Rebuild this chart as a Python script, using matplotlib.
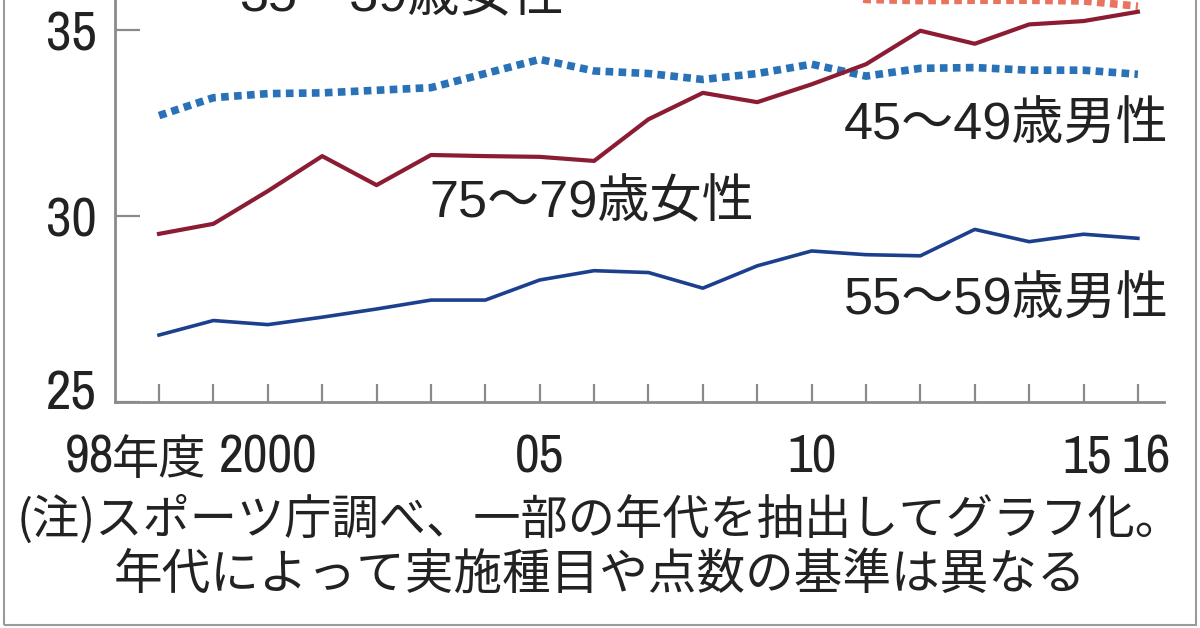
import matplotlib
matplotlib.use('Agg')
import matplotlib.pyplot as plt
from matplotlib import font_manager
from matplotlib.transforms import ScaledTranslation
from matplotlib.patches import Rectangle

# data (new physical fitness test total score)
years = [1998, 1999, 2000, 2001, 2002, 2003, 2004, 2005, 2006, 2007,
         2008, 2009, 2010, 2011, 2012, 2013, 2014, 2015, 2016]
tick_labels = ['98', '', '2000', '', '', '', '', '05', '', '', '',
               '', '10', '', '', '', '', '15', '16']
first_suffix = '年度'
yticks = [25, 30, 35]

male_45_49 = [32.70, 33.18, 33.29, 33.31, 33.38, 33.45, 33.83, 34.21, 33.90, 33.83,
              33.67, 33.83, 34.08, 33.76, 33.97, 33.99, 33.92, 33.92, 33.81]
female_75_79 = [29.52, 29.79, 30.67, 31.61, 30.83, 31.64, 31.61, 31.59, 31.48, 32.60,
                33.31, 33.06, 33.54, 34.08, 34.98, 34.63, 35.15, 35.24, 35.49]
male_55_59 = [26.80, 27.19, 27.08, 27.28, 27.50, 27.74, 27.74, 28.28, 28.53, 28.48,
              28.06, 28.66, 29.06, 28.96, 28.93, 29.64, 29.31, 29.51, 29.40]
# mostly above the cropped top edge; only 2011-16 is visible
female_35_39 = [36.30, 36.40, 36.40, 36.50, 36.40, 36.50, 36.50, 36.60, 36.50, 36.50,
                36.40, 36.30, 36.10, 35.82, 35.79, 35.80, 35.80, 35.78, 35.64]

note = ['(注)スポーツ庁調べ、一部の年代を抽出してグラフ化。',
        '年代によって実施種目や点数の基準は異なる']

jp = 'Noto Sans CJK JP'
plt.rcParams['font.family'] = [jp, 'DejaVu Sans']

# the tick numbers in the original are a condensed face - look for one
cond_name, cond_stretch = None, 'normal'
flist = font_manager.fontManager.ttflist
for test in (lambda f: 'Narrow' in f.name,
             lambda f: 'Condensed' in f.name,
             lambda f: str(f.stretch) in ('condensed', 'semi-condensed', 'extra-condensed')):
    hits = [f for f in flist if test(f) and f.style == 'normal'
            and f.weight in (400, 'normal', 'regular', 'book')]
    if hits:
        cond_name, cond_stretch = hits[0].name, hits[0].stretch
        break
have_cond = cond_name is not None
if not have_cond:
    cond_name = 'Liberation Sans'

txt_col = '#222222'
axis_col = '#8a8a8a'

fig = plt.figure(figsize=(12, 6.28), dpi=100)
# axes runs off the top of the picture (the reference is a crop)
ax = fig.add_axes([115 / 1200, 226 / 628, 1049 / 1200, 402 / 628])

ax.plot(years, male_45_49, color='#2a72b8', lw=5.5, dashes=(1.0, 0.7),
        dash_capstyle='butt')
ax.plot(years, female_35_39, color='#e8735f', lw=5.5, dashes=(1.0, 0.7),
        dash_capstyle='butt')
ax.plot(years, female_75_79, color='#8b1c34', lw=3.0)
ax.plot(years, male_55_59, color='#1c3f8e', lw=2.6)

ax.set_xlim(1998 - 0.81, 2016 + 0.48)
ax.set_ylim(25, 25 + 402 / 37.2)

for s in ['top', 'right']:
    ax.spines[s].set_visible(False)
for s in ['left', 'bottom']:
    ax.spines[s].set_color(axis_col)
    ax.spines[s].set_linewidth(2.0)

xsize, ysize = (39, 40) if have_cond else (31, 33)
xpad = 23 if have_cond else 28
ax.set_xticks(years)
ax.set_xticklabels(tick_labels)
ax.set_yticks(yticks)
ax.set_yticklabels([str(v) for v in yticks])
ax.tick_params(axis='x', direction='in', length=13, width=1.6, color=axis_col,
               pad=xpad, labelsize=xsize, labelcolor=txt_col)
ax.tick_params(axis='y', direction='in', length=18, width=1.6, color=axis_col,
               pad=13, labelsize=ysize, labelcolor=txt_col)
for lab in ax.get_xticklabels() + ax.get_yticklabels():
    lab.set_family([cond_name, jp])
    lab.set_stretch(cond_stretch)
    lab.set_weight('light')


def nudge(lab, dx, dy):
    lab.set_transform(lab.get_transform() + ScaledTranslation(dx / 100, dy / 100, fig.dpi_scale_trans))


xl = ax.get_xticklabels()
nudge(xl[0], -69, 0)
nudge(xl[17], 4, 0)
nudge(xl[18], 8, 0)
yl = ax.get_yticklabels()
nudge(yl[0], 0, 13)

# "年度" after the first year, in the kanji face
ax.annotate(first_suffix, xy=(years[0], 0), xycoords=('data', 'axes fraction'),
            xytext=(-47, -72), textcoords='offset pixels', fontsize=34,
            color=txt_col, ha='left', va='baseline', annotation_clip=False)

# series labels
lab_font = ['Liberation Sans', jp]
ax.text(2010.60, 32.42, '45～49歳男性', fontsize=37.5, color=txt_col, family=lab_font,
        ha='left', va='center')
ax.text(2002.97, 30.32, '75～79歳女性', fontsize=37.5, color=txt_col, family=lab_font,
        ha='left', va='center')
ax.text(2010.60, 27.71, '55～59歳男性', fontsize=37.5, color=txt_col, family=lab_font,
        ha='left', va='center')
ax.text(1999.47, 35.86, '35～39歳女性', fontsize=37.5, color=txt_col, family=lab_font,
        ha='left', va='center', clip_on=False)

# footnote
fig.text(0.5, 1 - 520 / 628, note[0], fontsize=34, color=txt_col, ha='center', va='center')
fig.text(0.5, 1 - 575 / 628, note[1], fontsize=35, color=txt_col, ha='center', va='center')

# outer frame of the clipping
fig.add_artist(Rectangle((0.003, 0.004), 0.994, 1.2, transform=fig.transFigure,
                         fill=False, ec='#9a9a9a', lw=1.5))

fig.savefig('out.png', dpi=100)
